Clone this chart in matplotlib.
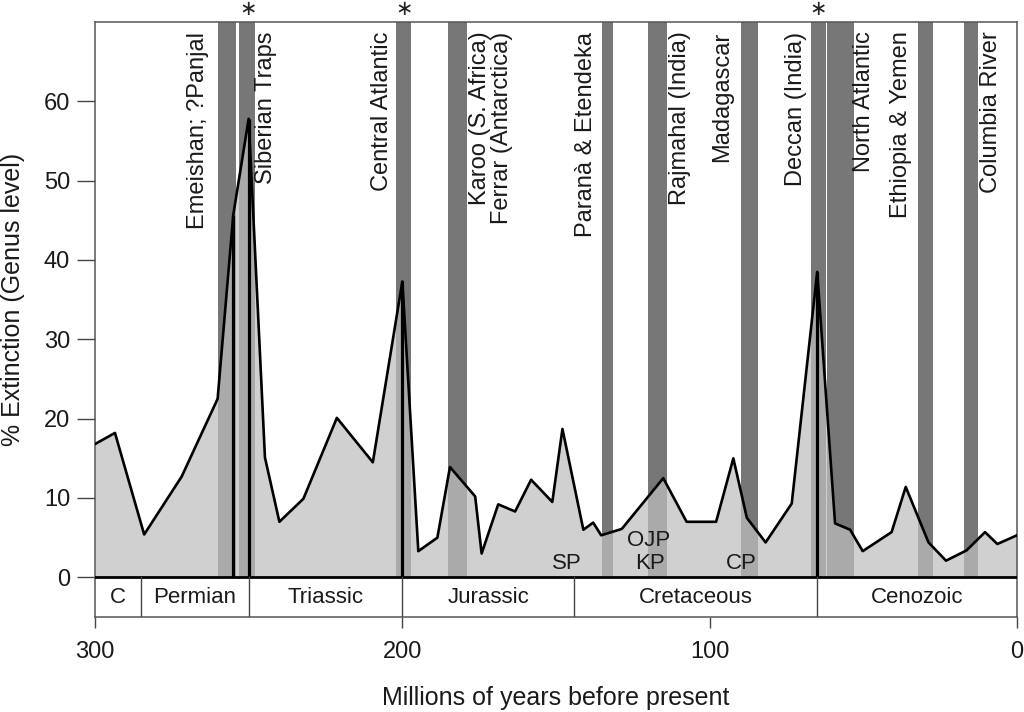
import numpy as np
import matplotlib.pyplot as plt

plt.rcParams['font.family'] = ['Liberation Sans', 'DejaVu Sans']

# extinction curve: age (Ma) and % extinction at genus level
ages = [300, 293.5, 284, 271.8, 260.1, 255, 250, 244.7, 240, 232.2,
        221.3, 209.6, 200, 194.8, 188.6, 184.5, 176.3, 174.2, 168.8, 163.3,
        158.1, 151.2, 147.9, 141.1, 137.9, 135.3, 128.6, 115.1, 107.5, 97.9,
        92.3, 87.9, 81.8, 73.3, 65, 59.2, 54.3, 50.2, 40.8, 36.2,
        28.8, 23.1, 16.4, 10.4, 6.4, 0]
extinction = [16.8, 18.2, 5.4, 12.7, 22.5, 45.7, 57.8, 15.1, 7.0, 9.9,
              20.1, 14.5, 37.3, 3.3, 5.0, 13.9, 10.2, 3.0, 9.2, 8.3,
              12.3, 9.5, 18.7, 6.0, 6.9, 5.3, 6.1, 12.5, 7.0, 7.0,
              15.0, 7.5, 4.4, 9.3, 38.5, 6.8, 6.0, 3.3, 5.7, 11.4,
              4.4, 2.1, 3.4, 5.7, 4.2, 5.3]

# mass extinction markers
mass_ext = [255, 250, 200, 65]
starred = [250.5, 199.5, 65]

# flood basalt provinces (age ranges, Ma)
band_old = [260.1, 253.1, 202.2, 185.0, 135.1, 120.2, 89.9, 67.1, 61.7, 32.3, 17.4]
band_young = [254.1, 247.9, 197.2, 179.0, 131.3, 114.0, 84.2, 62.3, 52.9, 27.2, 12.6]

province_names = ["Emeishan; ?Panjal", "Siberian Traps", "Central Atlantic",
                  "Karoo (S. Africa)", "Ferrar (Antarctica)", "Paranà & Etendeka",
                  "Rajmahal (India)", "Madagascar", "Deccan (India)",
                  "North Atlantic", "Ethiopia & Yemen", "Columbia River"]
province_x = [266.4, 244.5, 206.7, 174.8, 167.5, 140.3, 109.6, 95.9, 72.0, 49.8, 37.8, 8.5]

# oceanic plateaus
plateau_names = ["SP", "OJP", "KP", "CP"]
plateau_x = [146.5, 120.0, 119.4, 89.6]
plateau_y = [1.8, 4.6, 1.8, 1.8]

# geologic periods
periods = ["C", "Permian", "Triassic", "Jurassic", "Cretaceous", "Cenozoic"]
period_bounds = [300, 285, 250, 200, 144, 65, 0]

fig = plt.figure(figsize=(10.24, 7.12), dpi=100)
ax = fig.add_axes([95/1024, 1 - 617/712, 922/1024, 595/712])

for a, b in zip(band_old, band_young):
    ax.axvspan(b, a, ymin=5/75, ymax=1, color='#777777', lw=0, zorder=1)

ax.fill_between(ages, 0, extinction, color='#bebebe', alpha=0.72, lw=0, zorder=2)
ax.plot(ages, extinction, color='black', lw=1.9, zorder=4)

lookup = dict(zip(ages, extinction))
ax.vlines(mass_ext, 0, [lookup[m] for m in mass_ext], color='black', lw=2.3, zorder=4)

for s in starred:
    ax.text(s, 71.6, r'$\ast$', ha='center', va='center', fontsize=15,
            color='#222222', clip_on=False)

for name, x in zip(province_names, province_x):
    ax.text(x, 68.8, name, rotation=90, ha='center', va='top', fontsize=17,
            color='#1a1a1a', zorder=5)

for name, x, y in zip(plateau_names, plateau_x, plateau_y):
    ax.text(x, y, name, ha='center', va='center', fontsize=16, color='#1a1a1a', zorder=5)

# period strip
ax.axhline(0, color='black', lw=2.0, zorder=5)
for b in period_bounds[1:-1]:
    ax.plot([b, b], [-5, 0], color='#444444', lw=1.0, zorder=5)
for i, name in enumerate(periods):
    mid = (period_bounds[i] + period_bounds[i + 1]) / 2
    ax.text(mid, -2.5, name, ha='center', va='center', fontsize=16, color='#1a1a1a')

ax.set_xlim(300, 0)
ax.set_ylim(-5, 70)
ax.set_xticks([300, 200, 100, 0])
ax.set_yticks(np.arange(0, 61, 10))
ax.tick_params(axis='y', length=13, width=1.0, pad=5, labelsize=17, colors='#444444',
               labelcolor='#1a1a1a')
ax.tick_params(axis='x', length=8, width=1.0, pad=9, labelsize=17, colors='#444444',
               labelcolor='#1a1a1a')
for sp in ax.spines.values():
    sp.set_color('#555555')
    sp.set_linewidth(1.1)

ax.set_xlabel('Millions of years before present', fontsize=18, color='#1a1a1a', labelpad=17)
ax.set_ylabel('% Extinction (Genus level)', fontsize=18, color='#1a1a1a')
ax.yaxis.set_label_coords(-0.076, 40/75)

fig.savefig('out.png', dpi=100)
